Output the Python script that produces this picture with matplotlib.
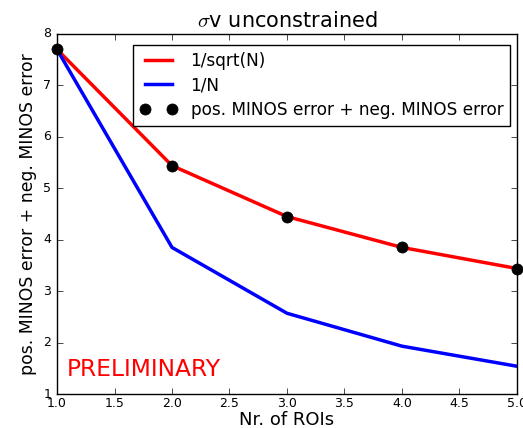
import numpy as np
import matplotlib
matplotlib.use("Agg")
import matplotlib.pyplot as plt

# %% data
n_rois = [1, 2, 3, 4, 5]
minos_err = [7.70, 5.44, 4.45, 3.85, 3.44]
sqrt_scaling = [7.70, 5.44, 4.45, 3.85, 3.44]
inv_scaling = [7.70, 3.85, 2.57, 1.93, 1.54]

plt.style.use('classic')

fig = plt.figure(figsize=(5.23, 4.28), dpi=100)
ax = fig.add_axes([0.109, 0.0794, 0.8795, 0.8412])

ax.plot(n_rois, sqrt_scaling, color='red', lw=2.5, label='1/sqrt(N)')
ax.plot(n_rois, inv_scaling, color='blue', lw=2.5, label='1/N')
ax.plot(n_rois, minos_err, 'o', color='black', markersize=8,
        label='pos. MINOS error + neg. MINOS error', clip_on=False)

ax.set_xlim(1, 5)
ax.set_ylim(1, 8)
ax.tick_params(labelsize=9)
ax.tick_params(axis='x', pad=2)
ax.set_xlabel('Nr. of ROIs', fontsize=13, labelpad=1)
ax.set_ylabel('pos. MINOS error + neg. MINOS error', fontsize=12.4)
ax.set_title(r'$\sigma$v unconstrained', fontsize=15)

ax.text(0.022, 0.05, 'PRELIMINARY', color='red', fontsize=16.8,
        va='baseline', transform=ax.transAxes)

ax.legend(loc='upper right', numpoints=2, fontsize=12.2,
          bbox_to_anchor=(0.985, 0.97), borderaxespad=0,
          labelspacing=0.4, handlelength=2.2)

fig.savefig('out.png', dpi=100)
